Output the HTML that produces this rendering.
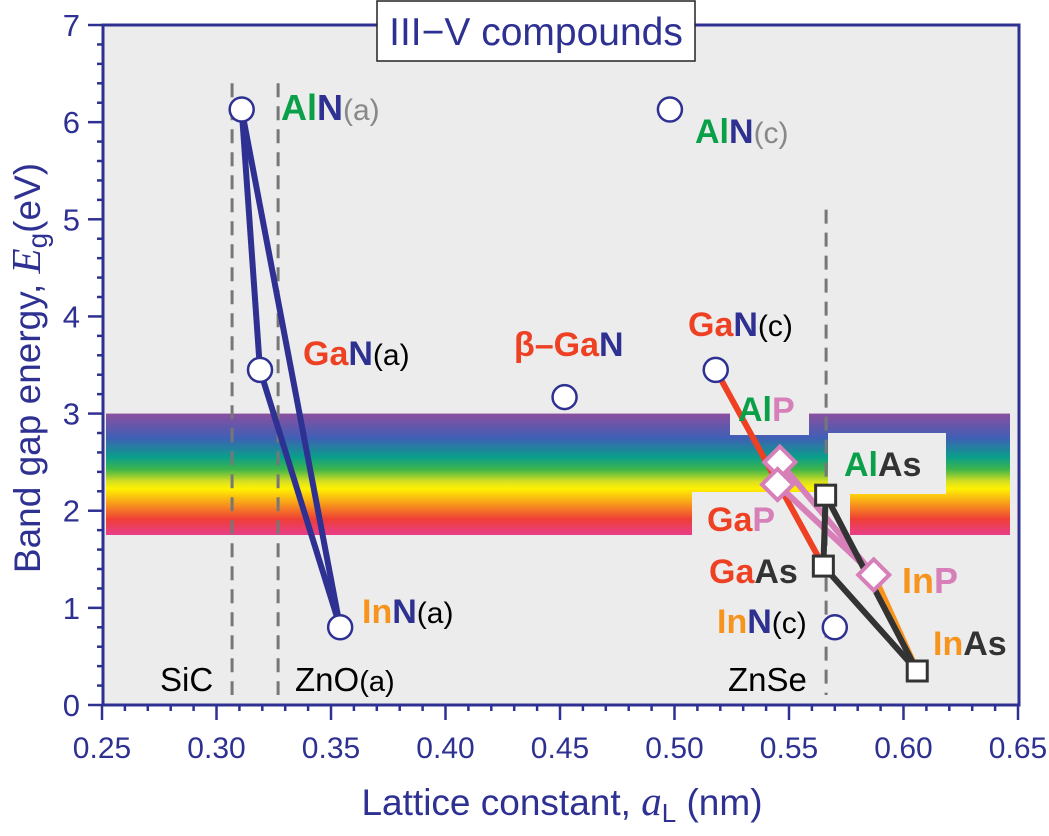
<!DOCTYPE html>
<html><head><meta charset="utf-8"><style>
body{margin:0;background:#fff}
svg{display:block;font-family:"Liberation Sans",Arial,sans-serif}
</style></head><body>
<svg id="c" width="1049" height="836" viewBox="0 0 1049 836">
<defs>
<linearGradient id="rb" x1="0" y1="0" x2="0" y2="1">
<stop offset="0" stop-color="#8a4fa0"/><stop offset="0.2" stop-color="#3f5fb5"/><stop offset="0.36" stop-color="#0a9f8a"/><stop offset="0.46" stop-color="#3fb54a"/><stop offset="0.56" stop-color="#d8e020"/><stop offset="0.62" stop-color="#fff200"/><stop offset="0.75" stop-color="#f7941d"/><stop offset="0.87" stop-color="#ef3e36"/><stop offset="1" stop-color="#e83e8c"/>
</linearGradient>
</defs>
<rect x="103" y="25" width="916" height="680" fill="#ececec"/>
<g id="band"></g>
<g id="grid"></g>
<g id="lines"></g>
<g id="marks"></g>
<g id="axes"></g>
<g id="labels" font-weight="bold" font-size="34">
<text x="281" y="120" font-size="36"><tspan fill="#0aa04a">Al</tspan><tspan fill="#2e3192">N</tspan><tspan fill="#888" font-weight="normal" font-size="30">(a)</tspan></text>
<text x="303" y="365"><tspan fill="#ee4023">Ga</tspan><tspan fill="#2e3192">N</tspan><tspan fill="#000" font-weight="normal" font-size="30">(a)</tspan></text>
<text x="362" y="623"><tspan fill="#f7941d">In</tspan><tspan fill="#2e3192">N</tspan><tspan fill="#000" font-weight="normal" font-size="30">(a)</tspan></text>
<text x="514" y="356"><tspan fill="#ee4023">β–Ga</tspan><tspan fill="#2e3192">N</tspan></text>
<text x="695" y="143"><tspan fill="#0aa04a">Al</tspan><tspan fill="#2e3192">N</tspan><tspan fill="#888" font-weight="normal" font-size="30">(c)</tspan></text>
<text x="688" y="336"><tspan fill="#ee4023">Ga</tspan><tspan fill="#2e3192">N</tspan><tspan fill="#000" font-weight="normal" font-size="30">(c)</tspan></text>
<text x="738" y="421"><tspan fill="#0aa04a">Al</tspan><tspan fill="#d67fb8">P</tspan></text>
<text x="844" y="476"><tspan fill="#0aa04a">Al</tspan><tspan fill="#333">As</tspan></text>
<text x="707" y="531"><tspan fill="#ee4023">Ga</tspan><tspan fill="#d67fb8">P</tspan></text>
<text x="709" y="583"><tspan fill="#ee4023">Ga</tspan><tspan fill="#333">As</tspan></text>
<text x="902" y="593" font-size="36"><tspan fill="#f7941d">In</tspan><tspan fill="#d67fb8">P</tspan></text>
<text x="717" y="633"><tspan fill="#f7941d">In</tspan><tspan fill="#2e3192">N</tspan><tspan fill="#000" font-weight="normal" font-size="30">(c)</tspan></text>
<text x="933" y="655"><tspan fill="#f7941d">In</tspan><tspan fill="#333">As</tspan></text>
<g font-weight="normal" font-size="33" fill="#000">
<text x="160" y="691">SiC</text>
<text x="295" y="691">ZnO<tspan font-size="29">(a)</tspan></text>
<text x="728" y="691">ZnSe</text>
</g>
</g>
<rect x="377" y="1" width="318" height="60" fill="#fff" stroke="#222" stroke-width="1.5"/>
<text x="536" y="45" text-anchor="middle" font-size="39" fill="#2e3192">III−V compounds</text>
<text x="562" y="815" text-anchor="middle" font-size="37" fill="#2e3192">Lattice constant, <tspan font-family="Liberation Serif" font-style="italic" font-size="41">a</tspan><tspan font-size="26" dy="7">L</tspan><tspan dy="-7"> (nm)</tspan></text>
<text transform="translate(40,368) rotate(-90)" text-anchor="middle" font-size="37" fill="#2e3192">Band gap energy, <tspan font-family="Liberation Serif" font-style="italic" font-size="41">E</tspan><tspan font-size="28" dy="7">g</tspan><tspan dy="-7">(eV)</tspan></text>
</svg>
<script>
const names=['AlN(a)','GaN(a)','InN(a)','β-GaN','AlN(c)','GaN(c)','InN(c)','AlP','GaP','InP','AlAs','GaAs','InAs'];
const lattice=[0.311,0.319,0.354,0.452,0.498,0.518,0.570,0.546,0.545,0.587,0.566,0.565,0.606];
const gap=[6.13,3.45,0.80,3.17,6.13,3.45,0.80,2.50,2.27,1.34,2.16,1.43,0.35];
const shapes=['c','c','c','c','c','c','c','d','d','d','s','s','s'];
const edges=[[0,1,'#2e3192'],[0,2,'#2e3192'],[1,2,'#2e3192'],[5,11,'#ee4023'],[9,12,'#f7941d'],[7,9,'#d67fb8'],[8,9,'#d67fb8'],[7,8,'#d67fb8'],[10,11,'#333'],[10,12,'#333'],[11,12,'#333']];
const vlines=[0.3068,0.3269,0.5662];
const vtop=[6.4,6.4,5.1];
const xTicks=['0.25','0.30','0.35','0.40','0.45','0.50','0.55','0.60','0.65'];
const yTicks=['0','1','2','3','4','5','6','7'];
const bandLo=1.75,bandHi=3.0;
const X=v=>102+(v-0.25)*2290, Y=v=>705-v*97.14;
const NS='http://www.w3.org/2000/svg';
function mk(p,t,a){const e=document.createElementNS(NS,t);for(const k in a)e.setAttribute(k,a[k]);document.getElementById(p).appendChild(e);return e;}
let b=mk('band','rect',{x:106,y:Y(bandHi),width:904,height:Y(bandLo)-Y(bandHi),fill:'url(#rb)'});


[[730,380,79,55],[828,433,118,61],[692,492,158,50]].forEach(r=>{let e=mk('band','rect',{x:r[0],y:r[1],width:r[2],height:r[3],fill:'#ececec'});

});
vlines.forEach((v,i)=>{let e=mk('grid','line',{x1:X(v),x2:X(v),y1:Y(vtop[i]),y2:695,stroke:'#777','stroke-width':3,'stroke-dasharray':'14,9'});

});
edges.forEach(ed=>{let e=mk('lines','line',{x1:X(lattice[ed[0]]),y1:Y(gap[ed[0]]),x2:X(lattice[ed[1]]),y2:Y(gap[ed[1]]),stroke:ed[2],'stroke-width':6});

});
names.forEach((n,i)=>{const x=X(lattice[i]),y=Y(gap[i]);let e;
if(shapes[i]=='c')e=mk('marks','circle',{cx:x,cy:y,r:12,fill:'#fff',stroke:'#2e3192','stroke-width':2.5});
else if(shapes[i]=='d')e=mk('marks','rect',{x:x-11,y:y-11,width:22,height:22,fill:'#fff',stroke:'#d67fb8','stroke-width':4,transform:`rotate(45 ${x} ${y})`});
else e=mk('marks','rect',{x:x-10,y:y-10,width:20,height:20,fill:'#fff',stroke:'#333','stroke-width':3});

});
let f=mk('axes','rect',{x:103,y:25,width:916,height:680,fill:'none',stroke:'#2e3192','stroke-width':3});


for(let k=0;k<=40;k++){const x=X(0.25+k*0.01);mk('axes','line',{x1:x,x2:x,y1:705,y2:k%5?711:720,stroke:'#2e3192','stroke-width':2.5});}
for(let k=0;k<=35;k++){const y=Y(k*0.2);mk('axes','line',{x1:103,x2:k%5?97:88,y1:y,y2:y,stroke:'#2e3192','stroke-width':2.5});}
xTicks.forEach(t=>{let e=mk('axes','text',{x:X(+t),y:758,'text-anchor':'middle','font-size':30,fill:'#2e3192'});e.textContent=t;

});
yTicks.forEach(t=>{let e=mk('axes','text',{x:80,y:Y(+t)+11,'text-anchor':'end','font-size':31,fill:'#2e3192'});e.textContent=t;

});
</script>
</body></html>
